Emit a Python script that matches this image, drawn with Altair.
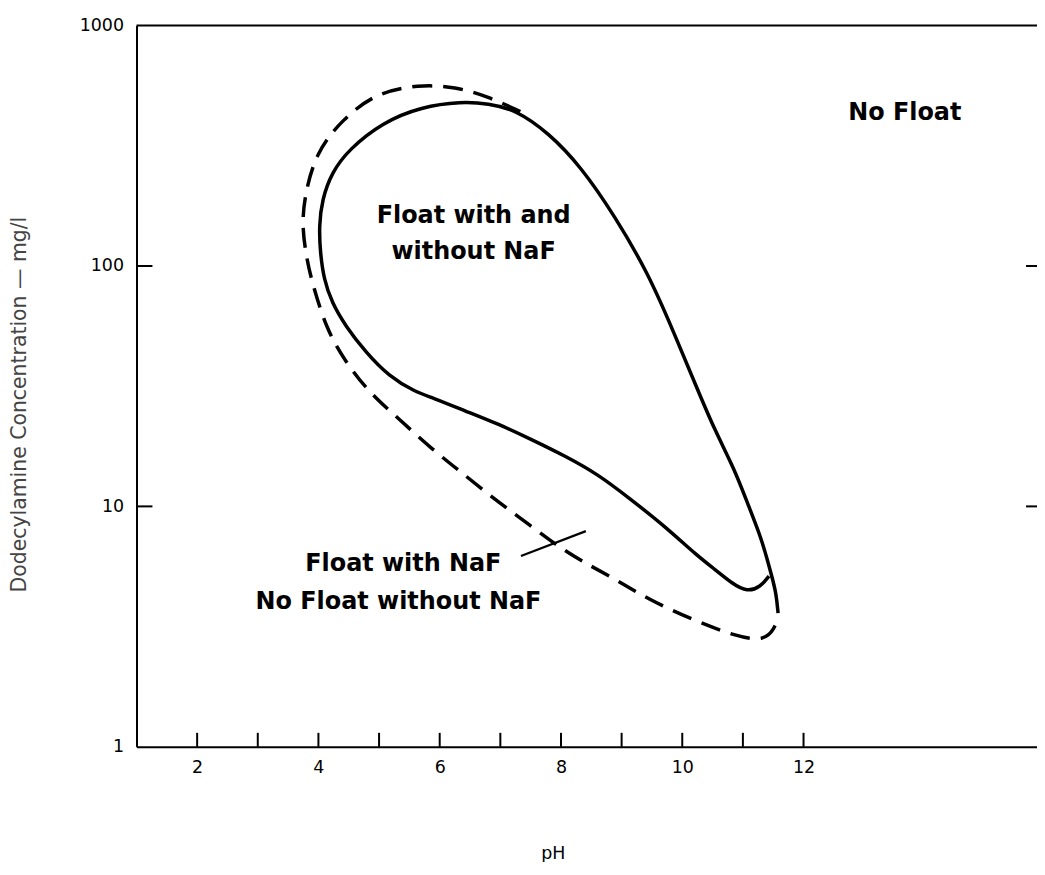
import altair as alt
import pandas as pd

# ---- data ----
solid_ph = [11.58, 11.55, 11.48, 11.40, 11.29, 11.07, 10.86, 10.53, 10.25, 9.84, 9.43, 8.89,
            8.33, 7.79, 7.25, 6.80, 6.36, 5.70, 5.05, 4.50, 4.22, 4.06, 4.01, 4.03, 4.09,
            4.22, 4.45, 4.78, 5.16, 5.60, 5.87, 6.43, 6.97, 7.51, 8.07, 8.61, 9.15, 9.71,
            10.25, 10.53, 10.83, 11.07, 11.29, 11.43]
solid_conc = [3.60, 4.33, 5.09, 6.04, 7.53, 10.4, 14.3, 20.9, 30.7, 54.5, 94, 161,
              259, 359, 447, 474, 483, 460, 395, 305, 245, 189, 146, 114, 88,
              70.6, 56.1, 43.8, 34.8, 29.9, 28.4, 24.9, 22.0, 19.0, 16.2, 13.6, 10.7, 8.28,
              6.22, 5.49, 4.76, 4.41, 4.62, 5.13]

dashed_ph = [7.33, 6.80, 6.26, 5.65, 4.95, 4.39, 3.96, 3.77, 3.73, 3.80, 3.88, 4.13,
             4.45, 4.83, 5.33, 5.87, 6.43, 6.97, 7.51, 7.90, 8.33, 8.89, 9.43, 10.14,
             10.91, 11.35, 11.52, 11.58]
dashed_conc = [439, 507, 557, 568, 526, 406, 297, 195, 146, 110, 88, 54.5,
               39.8, 29.9, 23.1, 17.3, 13.4, 10.4, 8.28, 6.97, 5.93, 4.99, 4.12, 3.40,
               2.86, 2.76, 3.09, 3.47]

pointer_ph = [7.34, 8.41]
pointer_conc = [6.22, 7.89]

label_text = ["No Float", "Float with and", "without NaF", "Float with NaF", "No Float without NaF"]
label_ph = [13.67, 6.56, 6.56, 5.40, 5.32]
label_conc = [431, 161, 114, 5.76, 4.00]

x_tick_values = [2, 3, 4, 5, 6, 7, 8, 9, 10, 11, 12]
x_label_values = [2, 4, 6, 8, 10, 12]
y_tick_values = [10, 100]
y_label_values = [1, 10, 100, 1000]
top_line = [1000]

W, H = 904, 724
xs = alt.Scale(domain=[1, 15.85], nice=False, zero=False)
ys = alt.Scale(type="log", domain=[1, 1000], nice=False)

solid_df = pd.DataFrame({"pH": solid_ph, "conc": solid_conc, "i": range(len(solid_ph))})
dashed_df = pd.DataFrame({"pH": dashed_ph, "conc": dashed_conc, "i": range(len(dashed_ph))})
pointer_df = pd.DataFrame({"pH": pointer_ph, "conc": pointer_conc, "i": range(2)})
labels_df = pd.DataFrame({"pH": label_ph, "conc": label_conc, "t": label_text})
xt_df = pd.DataFrame({"pH": x_tick_values})
yt_df = pd.DataFrame({"conc": y_tick_values})
top_df = pd.DataFrame({"conc": top_line})

x_axis = alt.Axis(values=x_label_values, ticks=False, grid=False, domain=True,
                  domainColor="black", domainWidth=2,
                  labelFont="DejaVu Sans", labelFontSize=17.5, labelColor="black",
                  labelPadding=12, title="pH", titleFont="DejaVu Sans",
                  titleFontSize=17.5, titleFontWeight="normal", titleColor="black",
                  titleX=418, titleY=107, titleAlign="center", titleBaseline="middle")
y_axis = alt.Axis(values=y_label_values, format="d", ticks=False, grid=False, domain=True,
                  domainColor="black", domainWidth=2,
                  labelFont="DejaVu Sans", labelFontSize=17.5, labelColor="black",
                  labelPadding=13, title="Dodecylamine Concentration — mg/l",
                  titleFont="DejaVu Sans", titleFontSize=20.5, titleFontWeight="normal",
                  titleColor="#444", titleAngle=270, titleX=-117, titleY=380,
                  titleAlign="center", titleBaseline="middle")


def X():
    return alt.X("pH:Q", scale=xs, axis=x_axis)


def Y():
    return alt.Y("conc:Q", scale=ys, axis=y_axis)


solid = alt.Chart(solid_df).mark_line(
    color="black", strokeWidth=3.5, interpolate="basis"
).encode(x=X(), y=Y(), order="i:Q")

dashed = alt.Chart(dashed_df).mark_line(
    color="black", strokeWidth=3.5, strokeDash=[20, 11], interpolate="basis"
).encode(x=X(), y=Y(), order="i:Q")

pointer = alt.Chart(pointer_df).mark_line(color="black", strokeWidth=2.2).encode(
    x=X(), y=Y(), order="i:Q"
)

labels = alt.Chart(labels_df).mark_text(
    font="DejaVu Sans", fontWeight="bold", fontSize=24, color="black",
    align="center", baseline="middle"
).encode(x=X(), y=Y(), text="t:N")

xticks = alt.Chart(xt_df).mark_rule(color="black", strokeWidth=2).encode(
    x=X(), y=alt.value(H), y2=alt.value(H - 14),
)

yticks_left = alt.Chart(yt_df).mark_rule(color="black", strokeWidth=2).encode(
    y=Y(), x=alt.value(0), x2=alt.value(16),
)

yticks_right = alt.Chart(yt_df).mark_rule(color="black", strokeWidth=2).encode(
    y=Y(), x=alt.value(W - 11), x2=alt.value(W),
)

top = alt.Chart(top_df).mark_rule(color="black", strokeWidth=2).encode(
    y=Y(), x=alt.value(0), x2=alt.value(W),
)

chart = alt.layer(
    solid, dashed, pointer, labels, xticks, yticks_left, yticks_right, top
).properties(
    width=W, height=H,
    autosize=alt.AutoSizeParams(type="none"),
    padding={"left": 129, "top": 16, "right": 0, "bottom": 114},
    background="white",
).configure_view(stroke=None)

chart.save("out.html", embed_options={"renderer": "svg", "actions": False})
